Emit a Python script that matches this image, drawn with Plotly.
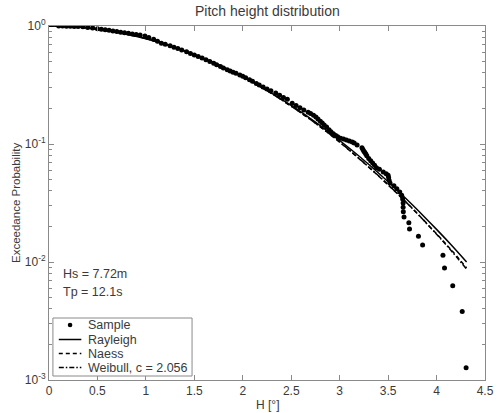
import plotly.graph_objects as go

# ---- data ----
sample_h = [0.10, 0.14, 0.18, 0.22, 0.26, 0.30, 0.35, 0.40, 0.45, 0.50, 0.54, 0.58, 0.62, 0.66,
            0.70, 0.74, 0.78, 0.82, 0.86, 0.90, 0.94, 0.99, 1.03, 1.08, 1.12, 1.16, 1.20, 1.25,
            1.29, 1.33, 1.37, 1.42, 1.46, 1.50, 1.54, 1.58, 1.62, 1.66, 1.70, 1.73, 1.77, 1.80,
            1.84, 1.87, 1.90, 1.93, 1.97, 2.00, 2.03, 2.07, 2.10, 2.14, 2.17, 2.21, 2.25, 2.29,
            2.34, 2.38, 2.42, 2.46, 2.51, 2.55, 2.59, 2.63, 2.675, 2.70, 2.73, 2.755, 2.776, 2.80,
            2.82, 2.84, 2.865, 2.89, 2.91, 2.935, 2.96, 2.98, 3.01, 3.04, 3.07, 3.10, 3.13, 3.15,
            3.18, 3.23, 3.24, 3.25, 3.26, 3.27, 3.28, 3.30, 3.32, 3.34, 3.36, 3.38, 3.41, 3.45,
            3.48, 3.50, 3.505, 3.51, 3.52, 3.56, 3.59, 3.62, 3.64, 3.650, 3.655, 3.655,
            3.657, 3.664, 3.714, 3.721, 3.813, 3.856, 4.066, 4.082, 4.167, 4.265, 4.305]
sample_p = [0.999, 0.998, 0.996, 0.994, 0.991, 0.988, 0.985, 0.973, 0.962, 0.950, 0.940, 0.930,
            0.919, 0.908, 0.897, 0.887, 0.877, 0.867, 0.857, 0.848, 0.837, 0.822, 0.800, 0.772,
            0.742, 0.715, 0.700, 0.680, 0.662, 0.645, 0.627, 0.605, 0.586, 0.568, 0.551, 0.535,
            0.517, 0.500, 0.483, 0.470, 0.453, 0.440, 0.426, 0.415, 0.406, 0.398, 0.385, 0.375,
            0.364, 0.350, 0.340, 0.326, 0.316, 0.304, 0.292, 0.282, 0.270, 0.259, 0.248, 0.239,
            0.222, 0.212, 0.203, 0.194, 0.186, 0.181, 0.175, 0.169, 0.163, 0.156, 0.151, 0.145,
            0.139, 0.132, 0.127, 0.122, 0.118, 0.115, 0.112, 0.110, 0.108, 0.106, 0.104, 0.102,
            0.098, 0.093, 0.090, 0.087, 0.0848, 0.0823, 0.0797, 0.0755, 0.0722, 0.0690, 0.0660,
            0.0630, 0.0610, 0.0580, 0.0560, 0.0544, 0.0519, 0.0494, 0.0468, 0.0443,
            0.0418, 0.0392, 0.0367, 0.0342, 0.0316, 0.0291, 0.0266, 0.0241, 0.0215, 0.0190,
            0.0165, 0.0139, 0.0114, 0.0089, 0.0063, 0.0038, 0.00127]

fit_h = [0.0, 0.25, 0.5, 0.75, 1.0, 1.25, 1.5, 1.75, 2.0, 2.25, 2.5, 2.75, 3.0, 3.25, 3.5,
         3.75, 4.0, 4.15, 4.31]
rayleigh_p = [1.0, 0.9846, 0.940, 0.870, 0.780, 0.679, 0.572, 0.468, 0.371, 0.285, 0.212,
              0.153, 0.107, 0.0729, 0.0479, 0.0306, 0.0189, 0.0140, 0.0100]
naess_p = [1.0, 0.9860, 0.942, 0.872, 0.782, 0.680, 0.572, 0.467, 0.369, 0.283, 0.209,
           0.150, 0.1035, 0.0692, 0.0450, 0.0285, 0.0173, 0.0127, 0.0089]
weibull_p = [1.0, 0.9880, 0.944, 0.874, 0.783, 0.681, 0.573, 0.468, 0.370, 0.283, 0.209,
             0.150, 0.104, 0.0695, 0.0452, 0.0284, 0.0172, 0.0125, 0.0087]

x_ticks = [0, 0.5, 1, 1.5, 2, 2.5, 3, 3.5, 4, 4.5]
y_tickvals = [0.001, 0.01, 0.1, 1]
y_ticktext = ["10<sup>-3</sup>", "10<sup>-2</sup>", "10<sup>-1</sup>", "10<sup>0</sup>"]

series_names = ["Sample", "Rayleigh", "Naess", "Weibull, c = 2.056"]
series_dash = [None, "solid", "4px,3px", "5px,2px,1.5px,2px"]

FONT = "Liberation Sans, Arial, sans-serif"
TXT = "#3a3a3a"
AX = "#8a8a8a"

fig = go.Figure()
fig.add_trace(go.Scatter(x=sample_h, y=sample_p, mode="markers", name=series_names[0],
                         showlegend=False,
                         marker=dict(color="black", size=5, line=dict(width=0))))
for name, ys, dash in zip(series_names[1:], [rayleigh_p, naess_p, weibull_p], series_dash[1:]):
    fig.add_trace(go.Scatter(x=fit_h, y=ys, mode="lines", name=name, showlegend=False,
                             line=dict(color="black", width=1.5, dash=dash, shape="spline")))

# ---- compact legend box (MATLAB style) ----
PL, PR, PT, PB = 49, 494, 26, 380
def px(X):
    return (X - PL) / (PR - PL)
def py(Y):
    return (PB - Y) / (PB - PT)

shapes = [dict(type="rect", xref="paper", yref="paper", x0=px(53), x1=px(195), y0=py(376),
               y1=py(318), line=dict(color=AX, width=1), fillcolor="white", layer="above")]
annotations = []
row_y = [325, 339.5, 353.5, 367.5]
for i, (name, dash) in enumerate(zip(series_names, series_dash)):
    yy = py(row_y[i])
    if dash is None:
        shapes.append(dict(type="circle", xref="paper", yref="paper", xsizemode="pixel",
                           ysizemode="pixel", xanchor=px(70.5), yanchor=yy,
                           x0=-2.3, x1=2.3, y0=-2.3, y1=2.3, fillcolor="black",
                           line=dict(width=0), layer="above"))
    else:
        shapes.append(dict(type="line", xref="paper", yref="paper", x0=px(59), x1=px(82),
                           y0=yy, y1=yy, line=dict(color="black", width=1.5, dash=dash),
                           layer="above"))
    annotations.append(dict(text=name, x=px(86.5), y=yy, xref="paper", yref="paper",
                            xanchor="left", yanchor="middle", showarrow=False,
                            font=dict(size=12.5, color=TXT)))

annotations += [
    dict(text="Pitch height distribution", x=0.5, y=1, xref="paper", yref="paper",
         xanchor="center", yanchor="bottom", yshift=5, showarrow=False,
         font=dict(size=14, color=TXT)),
    dict(text="H [°]", x=0.5, y=0, xref="paper", yref="paper", xanchor="center",
         yanchor="top", yshift=-16, showarrow=False, font=dict(size=12, color=TXT)),
    dict(text="Exceedance Probability", x=0, y=0.5, xref="paper", yref="paper",
         xanchor="center", yanchor="middle", xshift=-33, textangle=-90, showarrow=False,
         font=dict(size=11.5, color=TXT)),
    dict(text="Hs = 7.72m", x=px(61), y=py(274), xref="paper", yref="paper", xanchor="left",
         yanchor="middle", showarrow=False, font=dict(size=12.5, color=TXT)),
    dict(text="Tp = 12.1s", x=px(61), y=py(292), xref="paper", yref="paper", xanchor="left",
         yanchor="middle", showarrow=False, font=dict(size=12.5, color=TXT)),
]

fig.update_layout(
    width=504, height=413,
    margin=dict(l=PL, r=504 - PR, t=PT, b=413 - PB),
    paper_bgcolor="white", plot_bgcolor="white",
    font=dict(family=FONT, size=12, color=TXT),
    showlegend=False,
    xaxis=dict(range=[0, 4.5], tickvals=x_ticks, ticks="inside", ticklen=5,
               tickcolor=AX, showline=True, linecolor=AX, linewidth=1, mirror="ticks",
               showgrid=False, zeroline=False, tickfont=dict(size=12, color=TXT)),
    yaxis=dict(type="log", range=[-3, 0], tickvals=y_tickvals, ticktext=y_ticktext,
               ticks="inside", ticklen=5, tickcolor=AX, showline=True, linecolor=AX,
               linewidth=1, mirror="ticks", showgrid=False, zeroline=False,
               tickfont=dict(size=12, color=TXT),
               minor=dict(ticks="inside", ticklen=3, tickcolor=AX, dtick="D1", showgrid=False)),
    shapes=shapes,
    annotations=annotations,
)

fig.write_html("out.html")
